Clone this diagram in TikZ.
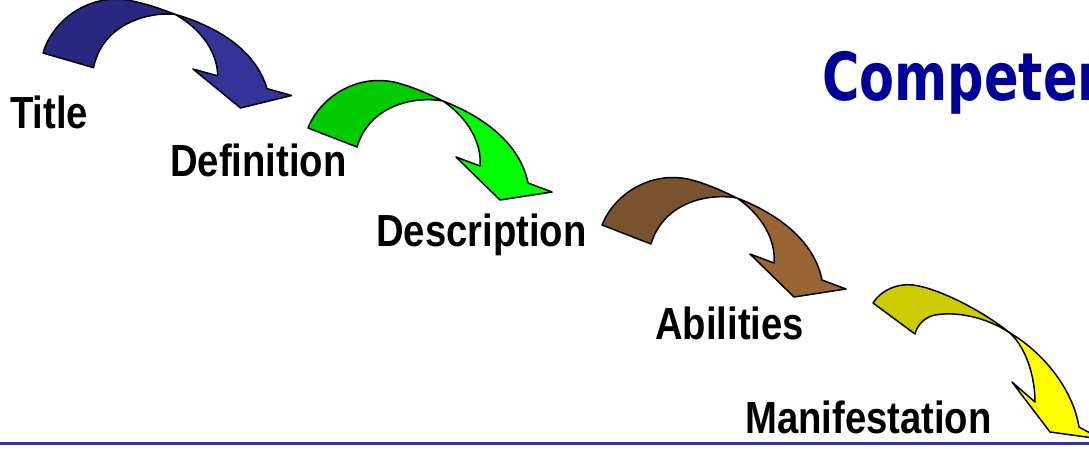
\documentclass[tikz,border=0pt]{standalone}
\usepackage{fontspec}
\setmainfont{Liberation Sans}
\newfontfamily\headfont{DejaVu Sans}

\definecolor{blueback}{RGB}{40,40,128}
\definecolor{bluefront}{RGB}{51,51,153}
\definecolor{greenback}{RGB}{0,204,0}
\definecolor{greenfront}{RGB}{0,255,0}
\definecolor{brownback}{RGB}{122,83,46}
\definecolor{brownfront}{RGB}{153,102,51}
\definecolor{yellowback}{RGB}{204,204,0}
\definecolor{yellowfront}{RGB}{255,255,0}
\definecolor{headblue}{RGB}{0,0,153}
\definecolor{rulecolor}{RGB}{51,51,153}

\tikzset{
  ribbon/.style={draw=black, line width=1.5pt, line join=round},
  steplabel/.style={anchor=base west, inner sep=0pt, text=black,
    font=\fontsize{45}{52}\selectfont\bfseries},
  % a twisted ribbon arrow: dark back half, light front half with the head
  pics/swoosh/.style n args={2}{code={
    \path[ribbon, fill=#1] (0,0) .. controls (12,-30) and (45,-51) .. (79,-47)
        .. controls (92,-46) and (115,-37) .. (135,-27)
        .. controls (108,-32) and (62,-24) .. (49,19) -- cycle;
    \path[ribbon, fill=#2] (135,-27) .. controls (166,-15) and (211,10) .. (220,55)
        -- (244,64) -- (192,72) -- (148,29) -- (172,38)
        .. controls (174,15) and (160,-10) .. (135,-27) -- cycle;
  }},
}

\begin{document}
\begin{tikzpicture}[x=1pt, y=-1pt]
  \useasboundingbox (0,0) rectangle (1089,448);
  \clip (0,0) rectangle (1089,448);

  % stepping arrows
  \pic[rotate=5] at (43,53) {swoosh={blueback}{bluefront}};
  \pic at (308,128) {swoosh={greenback}{greenfront}};
  \pic at (602,225) {swoosh={brownback}{brownfront}};

  % last arrow, bent more steeply
  \begin{scope}[shift={(873,303)}]
    \path[ribbon, fill=yellowback] (0,0) .. controls (8,-13) and (25,-20) .. (40,-18)
        .. controls (65,-15) and (110,8) .. (137,30)
        .. controls (115,15) and (85,8) .. (62,12)
        .. controls (52,14) and (44,22) .. (42,31) -- cycle;
    \path[ribbon, fill=yellowfront] (137,30) .. controls (166,47) and (199,82) .. (206,124)
        -- (228,136) -- (177,129) -- (139,79) -- (162,99)
        .. controls (162,77) and (155,47) .. (137,30) -- cycle;
  \end{scope}

  % step labels
  \node[steplabel] (title) at (10,128) {\scalebox{0.85}[1]{Title}};
  \node[steplabel] (definition) at (170,176) {\scalebox{0.85}[1]{Definition}};
  \node[steplabel] (description) at (376,246) {\scalebox{0.85}[1]{Description}};
  \node[steplabel] (abilities) at (655,339) {\scalebox{0.85}[1]{Abilities}};
  \node[steplabel] (manifestation) at (745,433) {\scalebox{0.85}[1]{Manifestation}};

  % heading
  \node[anchor=base west, inner sep=0pt, text=headblue,
        font=\headfont\fontsize{51}{60}\selectfont\bfseries]
        (heading) at (822,100) {\scalebox{1}[1.3]{Competen}};

  % bottom rule
  \coordinate (ruleL) at (0,443);
  \coordinate (ruleR) at (1089,443);
  \draw[rulecolor, line width=3pt] (ruleL) -- (ruleR);
\end{tikzpicture}
\end{document}
